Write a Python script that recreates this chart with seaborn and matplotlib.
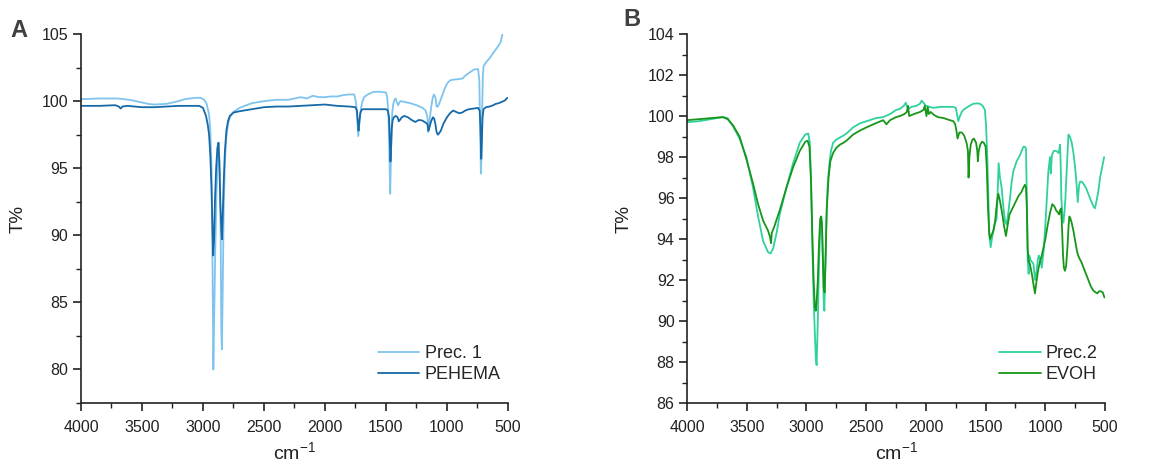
import numpy as np
import pandas as pd
import matplotlib
matplotlib.use("Agg")
import matplotlib.pyplot as plt
import seaborn as sns
from matplotlib.ticker import MultipleLocator

# ---------------- data ----------------
prec1_wn = [4000, 3850, 3700, 3600, 3550, 3450, 3400, 3300, 3200, 3150, 3060, 3020, 2990, 2970, 2950, 2940,
            2930, 2922, 2915, 2908, 2900, 2890, 2880, 2870, 2862, 2855, 2850, 2845, 2838, 2830, 2820, 2810,
            2795, 2780, 2750, 2700, 2600, 2500, 2400, 2300, 2200, 2150, 2100, 2050, 2000, 1950, 1900, 1850,
            1800, 1760, 1745, 1735, 1727, 1718, 1710, 1695, 1680, 1650, 1600, 1550, 1500, 1490, 1480, 1472,
            1465, 1460, 1455, 1448, 1440, 1430, 1420, 1410, 1400, 1390, 1380, 1350, 1300, 1250, 1200, 1175,
            1160, 1153, 1145, 1130, 1118, 1107, 1095, 1085, 1075, 1060, 1040, 1020, 1000, 975, 950, 900,
            870, 850, 820, 780, 745, 735, 728, 722, 716, 711, 706, 700, 680, 650, 620, 600, 580, 560, 545]
prec1_t = [100.15, 100.2, 100.2, 100.1, 100.0, 99.8, 99.75, 99.8, 100.0, 100.15, 100.25, 100.25, 100.1, 99.8, 99.0, 97.8,
           95.0, 88.0, 80.0, 84.0, 88.5, 93.0, 95.5, 96.9, 94.5, 90.0, 83.0, 81.5, 86.0, 92.0, 95.5, 97.2,
           98.3, 98.8, 99.2, 99.5, 99.85, 100.0, 100.1, 100.1, 100.3, 100.2, 100.4, 100.3, 100.3, 100.35, 100.35, 100.45,
           100.5, 100.5, 99.9, 98.6, 97.4, 98.3, 99.2, 99.9, 100.3, 100.5, 100.7, 100.7, 100.65, 100.3, 99.0, 96.0,
           93.1, 95.5, 97.8, 99.2, 99.8, 100.1, 100.2, 99.9, 99.7, 99.9, 100.0, 99.95, 99.85, 99.7, 99.5, 99.3,
           98.8, 97.7, 98.4, 99.5, 100.2, 100.5, 100.3, 99.6, 99.6, 99.9, 100.4, 100.9, 101.3, 101.55, 101.6, 101.65,
           101.7, 101.9, 102.1, 102.35, 102.4, 101.6, 98.0, 94.6, 96.0, 99.5, 101.8, 102.6, 102.9, 103.2, 103.6, 103.85, 104.1, 104.4, 105.0]

pehema_wn = [4000, 3850, 3720, 3690, 3675, 3660, 3620, 3500, 3400, 3300, 3200, 3100, 3030, 3000, 2975, 2960,
             2950, 2940, 2930, 2922, 2916, 2910, 2902, 2892, 2882, 2874, 2866, 2858, 2850, 2844, 2838, 2830,
             2820, 2808, 2795, 2780, 2750, 2700, 2600, 2500, 2400, 2300, 2200, 2100, 2000, 1900, 1800, 1750,
             1738, 1730, 1725, 1718, 1710, 1700, 1690, 1600, 1500, 1485, 1475, 1468, 1463, 1458, 1452, 1445,
             1435, 1420, 1405, 1395, 1385, 1370, 1350, 1320, 1290, 1260, 1230, 1200, 1175, 1160, 1152, 1145,
             1130, 1115, 1105, 1095, 1085, 1075, 1065, 1050, 1030, 1000, 975, 950, 925, 900, 875, 850,
             820, 780, 745, 732, 725, 719, 714, 708, 700, 680, 650, 620, 600, 575, 550, 525, 505]
pehema_t = [99.65, 99.65, 99.7, 99.6, 99.45, 99.6, 99.65, 99.55, 99.55, 99.6, 99.65, 99.65, 99.65, 99.5, 98.9, 98.2,
            97.5, 96.0, 93.5, 90.5, 88.5, 89.5, 92.5, 95.0, 96.5, 96.9, 95.5, 92.5, 90.5, 89.7, 91.5, 94.0,
            96.3, 97.8, 98.5, 98.9, 99.15, 99.25, 99.4, 99.55, 99.6, 99.6, 99.65, 99.7, 99.75, 99.65, 99.6, 99.55,
            99.3, 98.4, 97.8, 98.5, 99.1, 99.35, 99.4, 99.4, 99.4, 99.3, 98.8, 97.0, 95.5, 96.5, 98.0, 98.6,
            98.8, 98.9, 98.8, 98.5, 98.6, 98.8, 98.9, 98.8, 98.6, 98.45, 98.6, 98.55, 98.4, 98.3, 97.8, 98.0,
            98.5, 98.8, 98.7, 98.3, 97.7, 97.5, 97.6, 97.8, 98.3, 98.8, 99.1, 99.3, 99.2, 99.1, 99.15, 99.3,
            99.4, 99.45, 99.5, 99.3, 98.0, 95.7, 97.0, 98.8, 99.4, 99.55, 99.6, 99.7, 99.8, 99.85, 99.95, 100.05, 100.25]

prec2_wn = [4000, 3900, 3800, 3700, 3660, 3615, 3560, 3503, 3447, 3405, 3363, 3321, 3300, 3279, 3250, 3224,
            3168, 3112, 3056, 3010, 2985, 2972, 2962, 2950, 2940, 2930, 2922, 2915, 2905, 2895, 2885, 2877,
            2870, 2863, 2856, 2850, 2843, 2833, 2822, 2810, 2795, 2777, 2750, 2721, 2690, 2665, 2609, 2550,
            2497, 2420, 2358, 2300, 2250, 2218, 2185, 2168, 2160, 2148, 2120, 2080, 2050, 2036, 2020, 2000,
            1970, 1939, 1880, 1820, 1771, 1750, 1743, 1729, 1715, 1700, 1687, 1650, 1604, 1570, 1548, 1525,
            1506, 1496, 1486, 1477, 1469, 1458, 1448, 1436, 1420, 1408, 1400, 1391, 1380, 1366, 1352, 1338,
            1324, 1310, 1296, 1282, 1268, 1240, 1212, 1184, 1170, 1162, 1155, 1148, 1140, 1134, 1128, 1115,
            1100, 1086, 1072, 1063, 1055, 1042, 1030, 1015, 1002, 988, 975, 961, 955, 945, 930, 910,
            888, 877, 871, 866, 858, 849, 840, 832, 820, 807, 795, 779, 765, 751, 740, 729,
            718, 710, 695, 682, 660, 640, 620, 598, 585, 570, 555, 542, 525, 508]
prec2_t = [99.7, 99.75, 99.85, 99.95, 99.9, 99.5, 98.9, 98.0, 96.5, 95.1, 93.9, 93.35, 93.3, 93.55, 94.3, 95.2,
           96.5, 97.7, 98.7, 99.1, 99.15, 98.7, 97.0, 93.5, 91.0, 89.5, 88.2, 87.85, 90.0, 92.8, 94.5, 95.1,
           94.8, 93.0, 91.0, 90.5, 92.5, 95.0, 96.7, 97.6, 98.3, 98.7, 98.85, 98.95, 99.05, 99.15, 99.45, 99.65,
           99.75, 99.9, 99.95, 100.1, 100.3, 100.35, 100.5, 100.65, 100.5, 100.35, 100.45, 100.5, 100.6, 100.75, 100.65, 100.5,
           100.45, 100.4, 100.45, 100.45, 100.45, 100.4, 100.2, 99.75, 100.0, 100.2, 100.3, 100.45, 100.6, 100.62, 100.6, 100.5,
           100.3, 99.5, 98.0, 96.0, 94.2, 93.6, 94.0, 94.4, 94.8, 95.0, 96.2, 97.7, 97.0, 96.5, 95.6, 94.9,
           94.7, 95.3, 96.0, 96.8, 97.3, 97.8, 98.1, 98.5, 98.5, 98.4, 96.0, 93.0, 92.3, 93.2, 93.0, 92.9,
           92.8, 92.0, 92.5, 93.0, 93.2, 93.0, 92.6, 93.4, 94.5, 96.0, 97.3, 98.0, 97.2, 98.1, 98.3, 98.3,
           98.2, 98.6, 97.5, 96.0, 95.2, 94.8, 95.3, 96.0, 97.5, 99.1, 99.0, 98.7, 98.2, 97.5, 96.8, 95.8,
           96.6, 96.8, 96.8, 96.7, 96.5, 96.2, 95.9, 95.6, 95.5, 95.9, 96.4, 97.0, 97.5, 98.0]

evoh_wn = [4000, 3900, 3800, 3700, 3660, 3615, 3560, 3503, 3447, 3405, 3363, 3321, 3305, 3297, 3290, 3270,
           3224, 3168, 3112, 3056, 3010, 2990, 2975, 2962, 2950, 2940, 2930, 2922, 2915, 2905, 2895, 2885,
           2877, 2870, 2862, 2855, 2848, 2840, 2830, 2815, 2800, 2777, 2750, 2721, 2690, 2665, 2609, 2550,
           2497, 2420, 2358, 2330, 2300, 2250, 2218, 2180, 2160, 2150, 2140, 2100, 2050, 2020, 2010, 1995,
           1985, 1975, 1960, 1930, 1900, 1850, 1800, 1770, 1755, 1745, 1735, 1720, 1700, 1680, 1660, 1648,
           1643, 1636, 1625, 1610, 1598, 1580, 1570, 1565, 1558, 1545, 1530, 1515, 1500, 1490, 1480, 1470,
           1463, 1450, 1435, 1420, 1405, 1394, 1385, 1375, 1360, 1345, 1330, 1315, 1300, 1275, 1250, 1225,
           1200, 1185, 1171, 1162, 1155, 1148, 1140, 1130, 1120, 1110, 1100, 1087, 1075, 1060, 1045, 1030,
           1015, 1000, 980, 960, 942, 925, 910, 895, 885, 877, 868, 860, 852, 845, 836, 826,
           815, 805, 799, 790, 780, 765, 750, 735, 722, 718, 710, 700, 680, 660, 640, 620,
           600, 580, 565, 550, 535, 520, 505]
evoh_t = [99.8, 99.85, 99.9, 99.95, 99.85, 99.55, 99.0, 97.9, 96.7, 95.7, 94.9, 94.4, 94.1, 93.8, 94.3, 94.6,
          95.4, 96.5, 97.5, 98.3, 98.75, 98.8, 98.5, 96.8, 94.0, 92.0, 90.7, 90.5, 90.9, 92.0, 93.8, 95.0,
          95.1, 94.6, 93.0, 91.6, 91.4, 93.0, 95.5, 97.0, 97.8, 98.2, 98.45, 98.6, 98.7, 98.8, 99.1, 99.3,
          99.45, 99.65, 99.8, 99.6, 99.8, 99.95, 100.0, 100.1, 100.2, 100.5, 100.0, 100.1, 100.2, 100.3, 100.5, 100.0,
          100.45, 100.1, 100.2, 100.05, 99.95, 99.9, 99.8, 99.75, 99.6, 99.3, 98.9, 99.2, 99.2, 99.05, 98.7, 98.3,
          97.0, 98.0, 98.6, 98.85, 98.9, 98.7, 98.3, 97.8, 98.3, 98.6, 98.75, 98.7, 98.5, 97.4, 95.5, 94.3,
          94.0, 94.2, 94.4, 94.9, 95.8, 96.2, 96.0, 95.7, 95.2, 94.6, 94.15, 94.7, 95.2, 95.5, 95.8, 96.1,
          96.3, 96.5, 96.65, 96.5, 95.5, 93.5, 92.9, 92.8, 92.5, 92.2, 91.8, 91.35, 91.9, 92.5, 92.9, 93.2,
          93.6, 94.0, 94.7, 95.3, 95.7, 95.6, 95.4, 95.3, 95.2, 95.4, 95.5, 94.5, 93.2, 92.6, 92.45, 92.7,
          93.6, 94.7, 95.1, 95.0, 94.8, 94.4, 93.9, 93.4, 93.15, 93.1, 93.0, 92.9, 92.6, 92.3, 92.0, 91.7,
          91.5, 91.4, 91.35, 91.45, 91.45, 91.4, 91.15]

xticks = [4000, 3500, 3000, 2500, 2000, 1500, 1000, 500]
yticks_a = [80, 85, 90, 95, 100, 105]
yticks_b = [86, 88, 90, 92, 94, 96, 98, 100, 102, 104]
labels_a = ["Prec. 1", "PEHEMA"]
labels_b = ["Prec.2", "EVOH"]
colors = {"Prec. 1": "#7fc4ee", "PEHEMA": "#1769a8", "Prec.2": "#30d19e", "EVOH": "#17961a"}

# ---------------- styling ----------------
sns.set_theme(style="ticks")
plt.rcParams["font.family"] = ["Liberation Sans", "DejaVu Sans"]
plt.rcParams["mathtext.fontset"] = "custom"
plt.rcParams["mathtext.rm"] = "Liberation Sans"
plt.rcParams["mathtext.it"] = "Liberation Sans:italic"
plt.rcParams["axes.edgecolor"] = "#222222"
plt.rcParams["axes.linewidth"] = 1.2

fig = plt.figure(figsize=(11.72, 4.67), dpi=100)
axA = fig.add_axes([0.0691, 0.137, 0.3643, 0.790])
axB = fig.add_axes([0.5862, 0.137, 0.3567, 0.790])

def frame(wn, t, name):
    return pd.DataFrame({"wn": wn, "T": t, "series": name})

dfA = pd.concat([frame(prec1_wn, prec1_t, labels_a[0]), frame(pehema_wn, pehema_t, labels_a[1])])
dfB = pd.concat([frame(prec2_wn, prec2_t, labels_b[0]), frame(evoh_wn, evoh_t, labels_b[1])])

for ax, df, labels, ylim, yt, ymin in [
        (axA, dfA, labels_a, (77.5, 105), yticks_a, 2.5),
        (axB, dfB, labels_b, (86, 104), yticks_b, 1)]:
    sns.lineplot(data=df, x="wn", y="T", hue="series", hue_order=labels,
                 palette=colors, sort=False, estimator=None, lw=1.3, ax=ax, legend=False)
    ax.set_xlim(4000, 500)
    ax.set_ylim(*ylim)
    ax.set_xticks(xticks)
    ax.set_yticks(yt)
    ax.xaxis.set_minor_locator(MultipleLocator(250))
    ax.yaxis.set_minor_locator(MultipleLocator(ymin))
    ax.tick_params(which="major", direction="out", length=6, width=1.2, labelsize=11.5, colors="#222222", pad=3)
    ax.tick_params(which="minor", direction="out", length=3.5, width=1.0, colors="#222222")
    ax.tick_params(axis="x", which="major", pad=6)
    sns.despine(ax=ax)
    ax.set_xlabel(r"cm$^{\mathregular{-1}}$", fontsize=14, color="#222222", labelpad=5)
    ax.set_ylabel("T%", fontsize=13.5, color="#222222", labelpad=11)
    handles = ax.get_lines()[:2]
    ax.legend(handles, labels, loc="lower right", bbox_to_anchor=(1.0, 0.035), frameon=False,
              fontsize=13, handlelength=2.3, handletextpad=0.3, labelspacing=0.2, borderaxespad=0)

fig.text(0.009, 0.935, "A", fontsize=17, fontweight="bold", color="#404040", va="center")
fig.text(0.532, 0.958, "B", fontsize=17, fontweight="bold", color="#404040", va="center")

fig.savefig("out.png", dpi=100)
